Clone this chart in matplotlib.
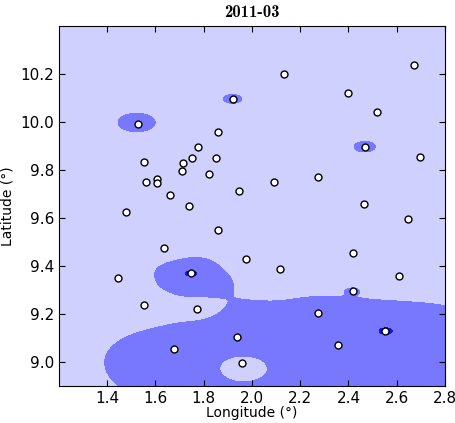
import numpy as np
import matplotlib
matplotlib.use("Agg")
import matplotlib.pyplot as plt

title = "2011-03"
lon = [1.528, 1.920, 2.132, 2.671, 2.398, 2.520, 1.858,
       2.468, 1.778, 2.698, 1.552, 1.715, 1.751, 1.850, 1.712, 1.821,
       1.562, 1.605, 1.605, 1.660, 1.947, 2.092, 2.272, 1.740, 1.479,
       2.464, 2.646, 1.858, 1.636, 1.974, 2.419, 2.115, 1.747, 1.447, 2.611,
       2.417, 1.552, 1.773, 2.274, 2.553, 1.937, 2.358, 1.677, 1.959]
lat = [9.992, 10.095, 10.200, 10.238, 10.118, 10.040, 9.956,
       9.896, 9.896, 9.852, 9.832, 9.829, 9.850, 9.850, 9.797, 9.782,
       9.750, 9.761, 9.745, 9.695, 9.713, 9.750, 9.771, 9.649, 9.625,
       9.658, 9.593, 9.549, 9.475, 9.428, 9.454, 9.386, 9.368, 9.350, 9.358,
       9.295, 9.236, 9.218, 9.203, 9.128, 9.102, 9.068, 9.054, 8.993]
value = [0.72, 0.54, 0.10, 0.00, 0.01, 0.00, 0.35, 0.58, 0.26, 0.00, 0.00,
         0.00, 0.04, 0.02, 0.00, 0.00, 0.00, 0.00, 0.00, 0.00, 0.00, 0.00,
         0.00, 0.00, 0.00, 0.00, 0.00, 0.00, 0.00, 0.00, 0.00, 0.35, 1.69,
         0.00, 0.06, 0.51, 0.23, 0.35, 0.64, 1.66, 1.50, 0.55, 0.79, 0.35]
levels = [-10, 0.5, 1.6, 10]
fill_colors = ["#d0d0ff", "#7878ff", "#1414e6"]
xlim = (1.2, 2.8)
ylim = (8.9, 10.4)
xticks = [1.4, 1.6, 1.8, 2.0, 2.2, 2.4, 2.6, 2.8]
yticks = [9.0, 9.2, 9.4, 9.6, 9.8, 10.0, 10.2]

x = np.asarray(lon)
y = np.asarray(lat)
v = np.asarray(value)
gx, gy = np.meshgrid(np.linspace(*xlim, 500), np.linspace(*ylim, 500))
# inverse-distance-weighted surface of the station values
d2 = ((gx[..., None] - x) * 0.5) ** 2 + (gy[..., None] - y) ** 2
w = 1.0 / np.maximum(d2, 1e-12)
field = (w * v).sum(-1) / w.sum(-1)

fig = plt.figure(figsize=(4.56, 4.23), dpi=100)
ax = fig.add_axes([0.129, 0.088, 0.847, 0.851])
ax.contourf(gx, gy, field, levels=levels, colors=fill_colors)
ax.plot(x, y, 'o', ms=5, mfc='white', mec='black', mew=1.0)
ax.set_xlim(xlim)
ax.set_ylim(ylim)
ax.set_xticks(xticks)
ax.set_yticks(yticks)
ax.tick_params(direction='in', top=True, right=True, length=4, labelsize=11)
ax.set_xlabel("Longitude (°)", fontsize=10, labelpad=0)
ax.set_ylabel("Latitude (°)", fontsize=10)
ax.set_title(title, fontname='cmb10', fontsize=12)
fig.savefig("out.png", dpi=100)
